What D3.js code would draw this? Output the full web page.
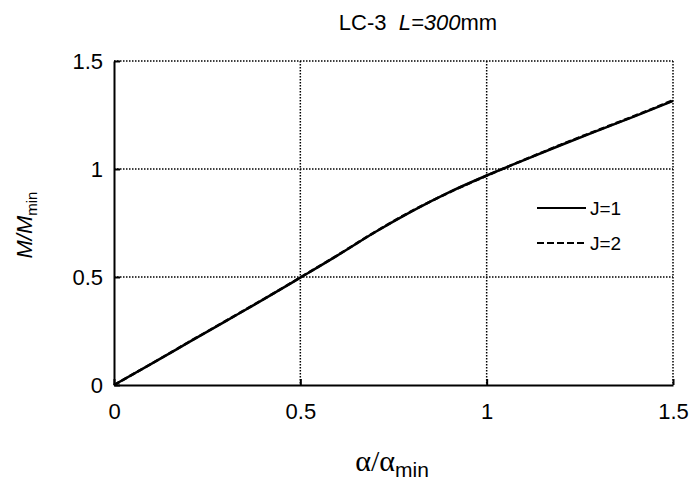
<!DOCTYPE html>
<html>
<head>
<meta charset="utf-8">
<script src="https://cdn.jsdelivr.net/npm/d3@7.9.0/dist/d3.min.js"></script>
<style>
  body { margin: 0; background: #fff; }
  svg { font-family: "Liberation Sans", Arial, sans-serif; }
</style>
</head>
<body>
<svg width="694" height="490"></svg>
<script>
const alpha = [0, 0.1, 0.2, 0.3, 0.4, 0.5, 0.6, 0.7, 0.8, 0.9, 1.0, 1.1, 1.2, 1.3, 1.4, 1.5];
const mJ1 = [0, 0.098, 0.197, 0.296, 0.395, 0.497, 0.600, 0.707, 0.805, 0.893, 0.970, 1.041, 1.111, 1.179, 1.246, 1.315];
const mJ2 = [0, 0.098, 0.198, 0.297, 0.396, 0.498, 0.601, 0.708, 0.806, 0.892, 0.969, 1.042, 1.113, 1.181, 1.248, 1.318];
const xTicks = [0, 0.5, 1, 1.5];
const yTicks = [0, 0.5, 1, 1.5];

const svg = d3.select("svg");
const pLeft = 114, pRight = 673, pTop = 61, pBottom = 385;

const x = d3.scaleLinear().domain([0, 1.5]).range([pLeft, pRight]);
const y = d3.scaleLinear().domain([0, 1.5]).range([pBottom, pTop]);

// dotted grid
svg.append("g").selectAll("line").data(xTicks.slice(1)).join("line")
  .attr("x1", d => x(d)).attr("x2", d => x(d))
  .attr("y1", pTop).attr("y2", pBottom)
  .attr("stroke", "#000").attr("stroke-width", 1.5).attr("stroke-dasharray", "1.5,1.5");
svg.append("g").selectAll("line").data(yTicks.slice(1)).join("line")
  .attr("x1", pLeft).attr("x2", pRight)
  .attr("y1", d => y(d)).attr("y2", d => y(d))
  .attr("stroke", "#000").attr("stroke-width", 1.5).attr("stroke-dasharray", "1.5,1.5");

// axes, inward ticks
const xAxis = svg.append("g").attr("transform", `translate(0,${pBottom})`)
  .call(d3.axisBottom(x).tickValues(xTicks).tickSizeInner(-6).tickSizeOuter(0).tickPadding(18).tickFormat(d3.format("")));
const yAxis = svg.append("g").attr("transform", `translate(${pLeft},0)`)
  .call(d3.axisLeft(y).tickValues(yTicks).tickSizeInner(-6).tickSizeOuter(0).tickPadding(11).tickFormat(d3.format("")));
[xAxis, yAxis].forEach(a => {
  a.select(".domain").attr("stroke", "#000").attr("stroke-width", 2);
  a.selectAll(".tick line").attr("stroke", "#000").attr("stroke-width", 2);
  a.selectAll("text").attr("font-size", 22).attr("fill", "#000").attr("font-family", "Liberation Sans, Arial, sans-serif");
});
yAxis.selectAll("text").attr("dy", "0.35em");

// curves
const line = d3.line().x((d, i) => x(alpha[i])).y(d => y(d)).curve(d3.curveMonotoneX);
svg.append("path").attr("d", line(mJ1)).attr("fill", "none")
  .attr("stroke", "#000").attr("stroke-width", 2.5);
svg.append("path").attr("d", line(mJ2)).attr("fill", "none")
  .attr("stroke", "#000").attr("stroke-width", 2.5).attr("stroke-dasharray", "6,3");

// legend
const legend = [{label: "J=1", dash: null, yy: 208}, {label: "J=2", dash: "7,3", yy: 243}];
legend.forEach(d => {
  svg.append("line").attr("x1", 537).attr("x2", 586).attr("y1", d.yy).attr("y2", d.yy)
    .attr("stroke", "#000").attr("stroke-width", 2.2).attr("stroke-dasharray", d.dash);
  svg.append("text").attr("x", 590).attr("y", d.yy + 7).attr("font-size", 19).text(d.label);
});

// title
const title = svg.append("text").attr("x", 418).attr("y", 30).attr("text-anchor", "middle").attr("font-size", 22);
title.append("tspan").text("LC-3\u00a0\u00a0");
title.append("tspan").attr("font-style", "italic").text("L=300");
title.append("tspan").text("mm");

// y label
const yl = svg.append("text").attr("transform", "translate(32,225) rotate(-90)")
  .attr("text-anchor", "middle").attr("font-size", 22);
yl.append("tspan").attr("font-style", "italic").text("M/M");
yl.append("tspan").attr("font-size", 15).attr("dy", 5).text("min");

// x label
const xl = svg.append("text").attr("x", 392).attr("y", 471).attr("text-anchor", "middle").attr("font-size", 30);
xl.append("tspan").attr("font-family", "Liberation Serif, Times New Roman, serif").text("α/α");
xl.append("tspan").attr("font-size", 21).attr("dy", 6).text("min");
</script>
</body>
</html>
